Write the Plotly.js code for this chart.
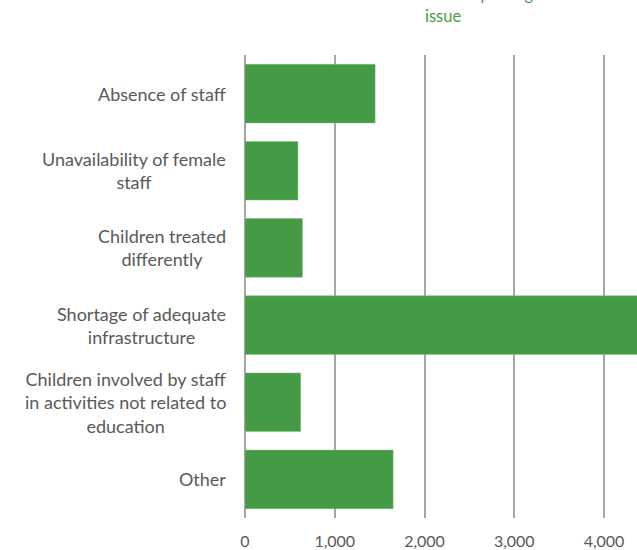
<!DOCTYPE html>
<html>
<head>
<meta charset="utf-8">
<script src="https://cdn.plot.ly/plotly-3.0.1.min.js"></script>
<style>
html,body{margin:0;padding:0;overflow:hidden;width:637px;height:550px;background:#fff;}
#chart{position:absolute;left:0;top:-30px;width:700px;height:580px;}
</style>
</head>
<body>
<div id="chart"></div>
<script>
const categories = [
  "Absence of staff",
  "Unavailability of female<br>staff",
  "Children treated<br>differently",
  "Shortage of adequate<br>infrastructure",
  "Children involved by staff<br>in activities not related to<br>education",
  "Other"
];
const values = [1450, 590, 640, 4600, 620, 1650];
const tickValues = [0, 1000, 2000, 3000, 4000];
const titleText = "Reported barriers";
const seriesLabelLines = ["Number of schools reporting the", "issue"];

const W = 700, ML = 245, MT = 85, PH = 463;
const plotW = W - ML;
const py = Y => 1 + (MT - Y) / PH;

const green = "#459A45";
const labelGray = "#595959";
const font = "Lato, 'Open Sans', sans-serif";

const trace = {
  type: "bar",
  orientation: "h",
  y: categories,
  x: values,
  marker: {color: green, line: {color: "#7cbf7a", width: 0.5}},
  hoverinfo: "x+y"
};

const annotations = categories.map(c => ({
  xref: "paper", yref: "y",
  x: (228 - ML) / plotW, y: c,
  xanchor: "right", yanchor: "middle",
  align: "center",
  text: c,
  showarrow: false,
  font: {family: font, size: 18, color: labelGray}
}));

[24, 46].forEach((Y, i) => annotations.push({
  xref: "paper", yref: "paper",
  x: (443 - ML) / plotW, y: py(Y),
  xanchor: "center", yanchor: "middle",
  text: seriesLabelLines[i],
  showarrow: false,
  font: {family: font, size: 16.5, color: "#4a9c48"}
}));

const layout = {
  width: W, height: 580,
  margin: {l: ML, r: 0, t: MT, b: 32, pad: 0},
  title: {
    text: "<b>" + titleText + "</b>",
    x: 82 / W, xanchor: "left", xref: "container",
    y: 1 - 19 / 580, yanchor: "middle", yref: "container",
    font: {family: font, size: 20, color: "#000"}
  },
  showlegend: false,
  paper_bgcolor: "#fff",
  plot_bgcolor: "#fff",
  bargap: 0.24,
  xaxis: {
    range: [0, plotW / 0.08975],
    tickvals: tickValues,
    tickformat: ",d",
    showgrid: true,
    gridcolor: "#a6a6a6",
    gridwidth: 2,
    zeroline: true,
    zerolinecolor: "#a6a6a6",
    zerolinewidth: 2,
    showline: false,
    ticks: "",
    ticklabelstandoff: 12,
    tickfont: {family: font, size: 16, color: labelGray},
    fixedrange: true
  },
  yaxis: {
    type: "category",
    categoryorder: "array",
    categoryarray: categories,
    autorange: "reversed",
    showticklabels: false,
    showgrid: false,
    zeroline: false,
    showline: false,
    ticks: "",
    fixedrange: true
  },
  annotations: annotations
};

Plotly.newPlot("chart", [trace], layout, {displayModeBar: false, staticPlot: true});
</script>
</body>
</html>
